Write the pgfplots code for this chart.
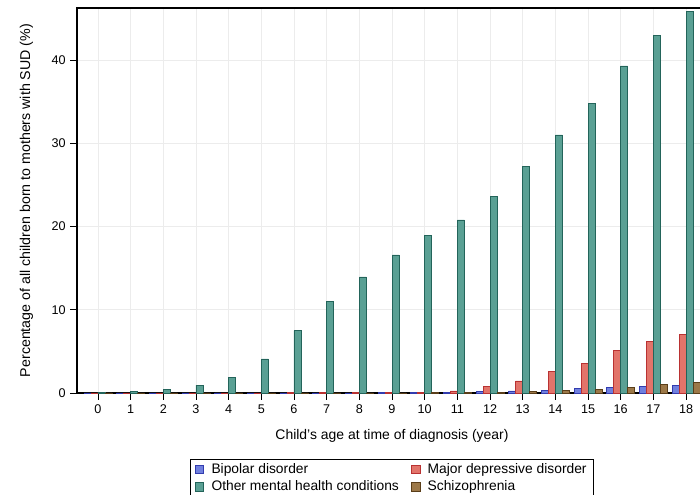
\documentclass[border=0pt]{standalone}
\usepackage{pgfplots}
\pgfplotsset{compat=1.18}
\usepackage{fontspec}
\setmainfont{Liberation Sans}
\definecolor{bpF}{RGB}{112,128,222}
\definecolor{bpD}{RGB}{50,60,175}
\definecolor{mdF}{RGB}{226,116,106}
\definecolor{mdD}{RGB}{185,50,50}
\definecolor{otF}{RGB}{90,160,148}
\definecolor{otD}{RGB}{35,100,90}
\definecolor{scF}{RGB}{156,120,72}
\definecolor{scD}{RGB}{90,62,25}
\begin{document}
\begin{tikzpicture}
\begin{axis}[
  at={(0,0)}, anchor=south west,
  scale only axis,
  width=472.5bp, height=288.75bp,
  xmin=-0.64, xmax=18.64,
  ymin=0, ymax=46.25,
  ybar=0pt, bar width=5.25bp,
  xtick={0,...,18},
  ytick={0,10,20,30,40},
  xtick pos=bottom, ytick pos=left,
  tick align=outside,
  major tick length=5bp,
  tick style={black, line width=0.5pt},
  grid=major,
  major grid style={gray!15, line width=0.6pt},
  axis line style={black, line width=0.8pt},
  font=\fontsize{9.5}{11}\selectfont,
  ticklabel style={font=\fontsize{9.5}{11}\selectfont},
  /pgf/number format/assume math mode=true,
  xlabel={Child's age at time of diagnosis (year)},
  ylabel={Percentage of all children born to mothers with SUD (\%)},
  xlabel style={font=\fontsize{10.5}{12}\selectfont, yshift=-5.5bp},
  ylabel style={font=\fontsize{10.7}{12}\selectfont, yshift=7bp},
  legend columns=2,
  legend cell align=left,
  legend style={at={(0.5,0)}, anchor=north, yshift=-49.5bp,
    font=\fontsize{10.4}{12}\selectfont, draw=black, line width=0.5pt,
    /tikz/every even column/.append style={column sep=7bp},
    inner ysep=1bp, row sep=0pt},
  legend image code/.code={\path[draw=none, fill=none] (0bp,0bp) -- (10.3bp,0bp);
    \draw[#1, line width=0.6pt] (0bp,-3.3bp) rectangle (6.5bp,3.3bp);},
]
\addplot[fill=bpF, draw=bpD, line width=0.4pt] coordinates {
(0,0.01) (1,0.01) (2,0.01) (3,0.01) (4,0.01) (5,0.01) (6,0.01) (7,0.02) (8,0.02) (9,0.03)
(10,0.05) (11,0.1) (12,0.18) (13,0.25) (14,0.36) (15,0.53) (16,0.72) (17,0.8) (18,0.96)};
\addplot[fill=mdF, draw=mdD, line width=0.4pt] coordinates {
(0,0.01) (1,0.01) (2,0.01) (3,0.01) (4,0.02) (5,0.02) (6,0.03) (7,0.04) (8,0.05) (9,0.08)
(10,0.12) (11,0.25) (12,0.76) (13,1.45) (14,2.6) (15,3.6) (16,5.1) (17,6.2) (18,7.0)};
\addplot[fill=otF, draw=otD, line width=0.4pt] coordinates {
(0,0.10) (1,0.20) (2,0.40) (3,0.95) (4,1.9) (5,4.1) (6,7.5) (7,11.0) (8,13.95) (9,16.6)
(10,18.9) (11,20.8) (12,23.65) (13,27.2) (14,31.0) (15,34.8) (16,39.3) (17,43.0) (18,45.8)};
\addplot[fill=scF, draw=scD, line width=0.4pt] coordinates {
(0,0.01) (1,0.01) (2,0.01) (3,0.01) (4,0.01) (5,0.01) (6,0.01) (7,0.02) (8,0.02) (9,0.02)
(10,0.03) (11,0.05) (12,0.08) (13,0.15) (14,0.36) (15,0.4) (16,0.65) (17,1.0) (18,1.32)};
\legend{Bipolar disorder, Major depressive disorder, Other mental health conditions, Schizophrenia}
\end{axis}
\pgfresetboundingbox
\useasboundingbox (-57.75bp,-76.5bp) rectangle (467.25bp,294.75bp);
\end{tikzpicture}
\end{document}
